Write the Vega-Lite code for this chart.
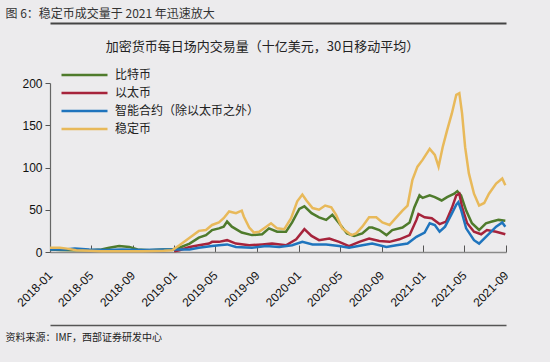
{
  "$schema": "https://vega.github.io/schema/vega-lite/v6.json",
  "width": 456,
  "height": 169,
  "autosize": {"type": "none"},
  "padding": {"left": 50, "top": 83, "right": 44, "bottom": 110},
  "background": "#ecebed",
  "config": {"view": {"stroke": null}, "font": "Noto Sans CJK SC"},
  "datasets": {
    "vol": [
      {"series": "比特币", "date": "2018-01-01", "value": 3},
      {"series": "比特币", "date": "2018-02-01", "value": 2.5},
      {"series": "比特币", "date": "2018-03-15", "value": 2},
      {"series": "比特币", "date": "2018-05-01", "value": 2},
      {"series": "比特币", "date": "2018-06-01", "value": 3},
      {"series": "比特币", "date": "2018-06-24", "value": 5},
      {"series": "比特币", "date": "2018-07-23", "value": 7},
      {"series": "比特币", "date": "2018-08-22", "value": 6},
      {"series": "比特币", "date": "2018-09-15", "value": 3},
      {"series": "比特币", "date": "2018-10-20", "value": 2},
      {"series": "比特币", "date": "2018-12-01", "value": 3},
      {"series": "比特币", "date": "2018-12-26", "value": 3},
      {"series": "比特币", "date": "2019-01-16", "value": 5},
      {"series": "比特币", "date": "2019-02-15", "value": 10},
      {"series": "比特币", "date": "2019-03-14", "value": 17},
      {"series": "比特币", "date": "2019-04-04", "value": 20},
      {"series": "比特币", "date": "2019-04-22", "value": 26},
      {"series": "比特币", "date": "2019-05-12", "value": 28},
      {"series": "比特币", "date": "2019-05-26", "value": 30},
      {"series": "比特币", "date": "2019-06-05", "value": 36},
      {"series": "比特币", "date": "2019-06-19", "value": 30},
      {"series": "比特币", "date": "2019-07-18", "value": 23},
      {"series": "比特币", "date": "2019-08-17", "value": 20},
      {"series": "比特币", "date": "2019-09-16", "value": 21},
      {"series": "比特币", "date": "2019-10-06", "value": 28},
      {"series": "比特币", "date": "2019-10-30", "value": 24},
      {"series": "比特币", "date": "2019-11-25", "value": 24},
      {"series": "比特币", "date": "2019-12-13", "value": 35},
      {"series": "比特币", "date": "2020-01-03", "value": 51},
      {"series": "比特币", "date": "2020-01-18", "value": 54},
      {"series": "比特币", "date": "2020-02-08", "value": 46},
      {"series": "比特币", "date": "2020-03-01", "value": 41},
      {"series": "比特币", "date": "2020-03-22", "value": 38},
      {"series": "比特币", "date": "2020-04-09", "value": 44},
      {"series": "比特币", "date": "2020-04-29", "value": 34},
      {"series": "比特币", "date": "2020-05-22", "value": 22},
      {"series": "比特币", "date": "2020-06-12", "value": 19},
      {"series": "比特币", "date": "2020-07-06", "value": 22},
      {"series": "比特币", "date": "2020-07-26", "value": 29},
      {"series": "比特币", "date": "2020-08-04", "value": 29},
      {"series": "比特币", "date": "2020-08-25", "value": 26},
      {"series": "比特币", "date": "2020-09-15", "value": 20},
      {"series": "比特币", "date": "2020-10-02", "value": 26},
      {"series": "比特币", "date": "2020-11-01", "value": 29},
      {"series": "比特币", "date": "2020-11-22", "value": 35},
      {"series": "比特币", "date": "2020-12-06", "value": 53},
      {"series": "比特币", "date": "2020-12-21", "value": 67},
      {"series": "比特币", "date": "2020-12-30", "value": 64},
      {"series": "比特币", "date": "2021-01-20", "value": 67},
      {"series": "比特币", "date": "2021-02-04", "value": 65},
      {"series": "比特币", "date": "2021-02-24", "value": 61},
      {"series": "比特币", "date": "2021-03-12", "value": 65},
      {"series": "比特币", "date": "2021-04-02", "value": 69},
      {"series": "比特币", "date": "2021-04-11", "value": 72},
      {"series": "比特币", "date": "2021-04-22", "value": 67},
      {"series": "比特币", "date": "2021-05-07", "value": 49},
      {"series": "比特币", "date": "2021-05-24", "value": 34},
      {"series": "比特币", "date": "2021-06-14", "value": 26},
      {"series": "比特币", "date": "2021-07-04", "value": 34},
      {"series": "比特币", "date": "2021-07-22", "value": 36},
      {"series": "比特币", "date": "2021-08-10", "value": 38},
      {"series": "比特币", "date": "2021-08-30", "value": 37},

      {"series": "以太币", "date": "2019-01-01", "value": 1},
      {"series": "以太币", "date": "2019-01-16", "value": 2},
      {"series": "以太币", "date": "2019-02-15", "value": 6},
      {"series": "以太币", "date": "2019-03-14", "value": 8},
      {"series": "以太币", "date": "2019-04-13", "value": 10},
      {"series": "以太币", "date": "2019-04-22", "value": 12},
      {"series": "以太币", "date": "2019-05-12", "value": 12},
      {"series": "以太币", "date": "2019-06-05", "value": 14},
      {"series": "以太币", "date": "2019-07-01", "value": 10},
      {"series": "以太币", "date": "2019-08-09", "value": 8},
      {"series": "以太币", "date": "2019-09-16", "value": 9},
      {"series": "以太币", "date": "2019-10-15", "value": 10},
      {"series": "以太币", "date": "2019-11-25", "value": 8},
      {"series": "以太币", "date": "2019-12-25", "value": 15},
      {"series": "以太币", "date": "2020-01-18", "value": 27},
      {"series": "以太币", "date": "2020-02-08", "value": 19},
      {"series": "以太币", "date": "2020-03-01", "value": 14},
      {"series": "以太币", "date": "2020-03-31", "value": 16},
      {"series": "以太币", "date": "2020-04-29", "value": 12},
      {"series": "以太币", "date": "2020-05-28", "value": 7},
      {"series": "以太币", "date": "2020-06-27", "value": 12},
      {"series": "以太币", "date": "2020-07-26", "value": 16},
      {"series": "以太币", "date": "2020-08-25", "value": 13},
      {"series": "以太币", "date": "2020-09-24", "value": 12},
      {"series": "以太币", "date": "2020-10-23", "value": 15},
      {"series": "以太币", "date": "2020-11-22", "value": 20},
      {"series": "以太币", "date": "2020-12-12", "value": 38},
      {"series": "以太币", "date": "2020-12-18", "value": 45},
      {"series": "以太币", "date": "2021-01-05", "value": 41},
      {"series": "以太币", "date": "2021-01-26", "value": 40},
      {"series": "以太币", "date": "2021-02-18", "value": 33},
      {"series": "以太币", "date": "2021-03-09", "value": 36},
      {"series": "以太币", "date": "2021-03-26", "value": 52},
      {"series": "以太币", "date": "2021-04-08", "value": 67},
      {"series": "以太币", "date": "2021-04-17", "value": 69},
      {"series": "以太币", "date": "2021-04-25", "value": 53},
      {"series": "以太币", "date": "2021-05-10", "value": 34},
      {"series": "以太币", "date": "2021-05-30", "value": 24},
      {"series": "以太币", "date": "2021-06-20", "value": 21},
      {"series": "以太币", "date": "2021-07-07", "value": 26},
      {"series": "以太币", "date": "2021-08-03", "value": 24},
      {"series": "以太币", "date": "2021-08-30", "value": 21},

      {"series": "智能合约（除以太币之外）", "date": "2018-01-01", "value": 3},
      {"series": "智能合约（除以太币之外）", "date": "2018-02-15", "value": 3},
      {"series": "智能合约（除以太币之外）", "date": "2018-03-15", "value": 4},
      {"series": "智能合约（除以太币之外）", "date": "2018-04-26", "value": 3},
      {"series": "智能合约（除以太币之外）", "date": "2018-06-15", "value": 2.5},
      {"series": "智能合约（除以太币之外）", "date": "2018-08-01", "value": 3},
      {"series": "智能合约（除以太币之外）", "date": "2018-10-01", "value": 2.5},
      {"series": "智能合约（除以太币之外）", "date": "2018-12-01", "value": 3},
      {"series": "智能合约（除以太币之外）", "date": "2019-01-16", "value": 3},
      {"series": "智能合约（除以太币之外）", "date": "2019-02-15", "value": 3},
      {"series": "智能合约（除以太币之外）", "date": "2019-03-14", "value": 5},
      {"series": "智能合约（除以太币之外）", "date": "2019-04-22", "value": 7},
      {"series": "智能合约（除以太币之外）", "date": "2019-05-12", "value": 8},
      {"series": "智能合约（除以太币之外）", "date": "2019-06-05", "value": 9},
      {"series": "智能合约（除以太币之外）", "date": "2019-07-01", "value": 6},
      {"series": "智能合约（除以太币之外）", "date": "2019-08-17", "value": 5},
      {"series": "智能合约（除以太币之外）", "date": "2019-09-28", "value": 7},
      {"series": "智能合约（除以太币之外）", "date": "2019-11-05", "value": 6},
      {"series": "智能合约（除以太币之外）", "date": "2019-12-13", "value": 8},
      {"series": "智能合约（除以太币之外）", "date": "2020-01-12", "value": 12},
      {"series": "智能合约（除以太币之外）", "date": "2020-02-11", "value": 9},
      {"series": "智能合约（除以太币之外）", "date": "2020-03-22", "value": 9},
      {"series": "智能合约（除以太币之外）", "date": "2020-04-29", "value": 7},
      {"series": "智能合约（除以太币之外）", "date": "2020-05-28", "value": 5},
      {"series": "智能合约（除以太币之外）", "date": "2020-07-06", "value": 8},
      {"series": "智能合约（除以太币之外）", "date": "2020-08-04", "value": 10},
      {"series": "智能合约（除以太币之外）", "date": "2020-09-15", "value": 6},
      {"series": "智能合约（除以太币之外）", "date": "2020-10-14", "value": 8},
      {"series": "智能合约（除以太币之外）", "date": "2020-11-16", "value": 10},
      {"series": "智能合约（除以太币之外）", "date": "2020-12-12", "value": 18},
      {"series": "智能合约（除以太币之外）", "date": "2021-01-05", "value": 23},
      {"series": "智能合约（除以太币之外）", "date": "2021-01-20", "value": 34},
      {"series": "智能合约（除以太币之外）", "date": "2021-02-04", "value": 32},
      {"series": "智能合约（除以太币之外）", "date": "2021-02-18", "value": 24},
      {"series": "智能合约（除以太币之外）", "date": "2021-03-06", "value": 30},
      {"series": "智能合约（除以太币之外）", "date": "2021-03-24", "value": 44},
      {"series": "智能合约（除以太币之外）", "date": "2021-04-08", "value": 56},
      {"series": "智能合约（除以太币之外）", "date": "2021-04-14", "value": 59},
      {"series": "智能合约（除以太币之外）", "date": "2021-04-22", "value": 50},
      {"series": "智能合约（除以太币之外）", "date": "2021-05-07", "value": 28},
      {"series": "智能合约（除以太币之外）", "date": "2021-05-30", "value": 14},
      {"series": "智能合约（除以太币之外）", "date": "2021-06-14", "value": 10},
      {"series": "智能合约（除以太币之外）", "date": "2021-07-04", "value": 18},
      {"series": "智能合约（除以太币之外）", "date": "2021-08-03", "value": 30},
      {"series": "智能合约（除以太币之外）", "date": "2021-08-21", "value": 35},
      {"series": "智能合约（除以太币之外）", "date": "2021-08-30", "value": 30},

      {"series": "稳定币", "date": "2018-01-01", "value": 5},
      {"series": "稳定币", "date": "2018-01-30", "value": 5},
      {"series": "稳定币", "date": "2018-02-20", "value": 4},
      {"series": "稳定币", "date": "2018-03-19", "value": 2},
      {"series": "稳定币", "date": "2018-04-26", "value": 1.5},
      {"series": "稳定币", "date": "2018-06-01", "value": 1},
      {"series": "稳定币", "date": "2018-08-01", "value": 1},
      {"series": "稳定币", "date": "2018-10-01", "value": 1},
      {"series": "稳定币", "date": "2018-12-01", "value": 1.5},
      {"series": "稳定币", "date": "2018-12-26", "value": 2},
      {"series": "稳定币", "date": "2019-01-16", "value": 8},
      {"series": "稳定币", "date": "2019-02-15", "value": 17},
      {"series": "稳定币", "date": "2019-03-14", "value": 25},
      {"series": "稳定币", "date": "2019-04-04", "value": 26},
      {"series": "稳定币", "date": "2019-04-22", "value": 32},
      {"series": "稳定币", "date": "2019-05-12", "value": 35},
      {"series": "稳定币", "date": "2019-05-26", "value": 40},
      {"series": "稳定币", "date": "2019-06-11", "value": 48},
      {"series": "稳定币", "date": "2019-07-01", "value": 46},
      {"series": "稳定币", "date": "2019-07-18", "value": 49},
      {"series": "稳定币", "date": "2019-07-24", "value": 42},
      {"series": "稳定币", "date": "2019-08-09", "value": 29},
      {"series": "稳定币", "date": "2019-08-23", "value": 23},
      {"series": "稳定币", "date": "2019-09-07", "value": 24},
      {"series": "稳定币", "date": "2019-09-28", "value": 30},
      {"series": "稳定币", "date": "2019-10-12", "value": 34},
      {"series": "稳定币", "date": "2019-10-30", "value": 28},
      {"series": "稳定币", "date": "2019-11-20", "value": 27},
      {"series": "稳定币", "date": "2019-12-10", "value": 40},
      {"series": "稳定币", "date": "2019-12-28", "value": 60},
      {"series": "稳定币", "date": "2020-01-12", "value": 68},
      {"series": "稳定币", "date": "2020-01-24", "value": 61},
      {"series": "稳定币", "date": "2020-02-11", "value": 52},
      {"series": "稳定币", "date": "2020-03-01", "value": 50},
      {"series": "稳定币", "date": "2020-03-19", "value": 55},
      {"series": "稳定币", "date": "2020-04-06", "value": 53},
      {"series": "稳定币", "date": "2020-04-20", "value": 44},
      {"series": "稳定币", "date": "2020-05-08", "value": 28},
      {"series": "稳定币", "date": "2020-06-04", "value": 20},
      {"series": "稳定币", "date": "2020-06-18", "value": 22},
      {"series": "稳定币", "date": "2020-07-06", "value": 30},
      {"series": "稳定币", "date": "2020-07-26", "value": 41},
      {"series": "稳定币", "date": "2020-08-16", "value": 41},
      {"series": "稳定币", "date": "2020-09-03", "value": 35},
      {"series": "稳定币", "date": "2020-09-24", "value": 32},
      {"series": "稳定币", "date": "2020-10-14", "value": 41},
      {"series": "稳定币", "date": "2020-11-01", "value": 49},
      {"series": "稳定币", "date": "2020-11-16", "value": 55},
      {"series": "稳定币", "date": "2020-11-30", "value": 85},
      {"series": "稳定币", "date": "2020-12-15", "value": 101},
      {"series": "稳定币", "date": "2020-12-30", "value": 109},
      {"series": "稳定币", "date": "2021-01-20", "value": 122},
      {"series": "稳定币", "date": "2021-02-04", "value": 115},
      {"series": "稳定币", "date": "2021-02-15", "value": 101},
      {"series": "稳定币", "date": "2021-02-27", "value": 124},
      {"series": "稳定币", "date": "2021-03-12", "value": 144},
      {"series": "稳定币", "date": "2021-03-26", "value": 164},
      {"series": "稳定币", "date": "2021-04-08", "value": 186},
      {"series": "稳定币", "date": "2021-04-17", "value": 188},
      {"series": "稳定币", "date": "2021-04-25", "value": 164},
      {"series": "稳定币", "date": "2021-05-04", "value": 124},
      {"series": "稳定币", "date": "2021-05-15", "value": 93},
      {"series": "稳定币", "date": "2021-05-30", "value": 69},
      {"series": "稳定币", "date": "2021-06-14", "value": 55},
      {"series": "稳定币", "date": "2021-06-29", "value": 58},
      {"series": "稳定币", "date": "2021-07-13", "value": 69},
      {"series": "稳定币", "date": "2021-08-03", "value": 81},
      {"series": "稳定币", "date": "2021-08-21", "value": 87},
      {"series": "稳定币", "date": "2021-08-30", "value": 79}
    ]
  },
  "resolve": {"axis": {"x": "independent"}},
  "layer": [
    {
      "data": {"name": "vol"},
      "mark": {"type": "line", "strokeWidth": 2.5},
      "encoding": {
        "x": {
          "field": "date",
          "type": "temporal",
          "scale": {"domain": [{"year": 2018, "month": 1, "date": 1}, {"year": 2021, "month": 9, "date": 1}]},
          "axis": {
            "orient": "bottom",
            "values": [
              {"year": 2018, "month": 1, "date": 1}, {"year": 2018, "month": 5, "date": 1}, {"year": 2018, "month": 9, "date": 1},
              {"year": 2019, "month": 1, "date": 1}, {"year": 2019, "month": 5, "date": 1}, {"year": 2019, "month": 9, "date": 1},
              {"year": 2020, "month": 1, "date": 1}, {"year": 2020, "month": 5, "date": 1}, {"year": 2020, "month": 9, "date": 1},
              {"year": 2021, "month": 1, "date": 1}, {"year": 2021, "month": 5, "date": 1}, {"year": 2021, "month": 9, "date": 1}
            ],
            "format": "%Y-%m",
            "labelAngle": -45,
            "labelAlign": "right",
            "labelBaseline": "middle",
            "labelFont": "Liberation Sans",
            "labelFontSize": 12,
            "labelColor": "#111111",
            "labelPadding": 28,
            "labelOverlap": false,
            "labelFlush": false,
            "tickSize": -7,
            "tickColor": "#555555",
            "tickWidth": 1,
            "domainColor": "#8a8a8a",
            "domainWidth": 1.5,
            "grid": false,
            "title": "资料来源：IMF，西部证券研发中心",
            "titleFont": "Noto Sans CJK SC",
            "titleFontSize": 10,
            "titleFontWeight": "normal",
            "titleColor": "#222222",
            "titleX": -45,
            "titleY": 85,
            "titleAlign": "left",
            "titleBaseline": "middle"
          }
        },
        "y": {
          "field": "value",
          "type": "quantitative",
          "scale": {"domain": [0, 200], "nice": false},
          "axis": {
            "orient": "left",
            "values": [0, 25, 50, 75, 100, 125, 150, 175, 200],
            "labelFont": "Liberation Sans",
            "labelFontSize": 12,
            "labelColor": "#111111",
            "labelPadding": 3,
            "tickSize": 5,
            "tickColor": "#555555",
            "domainColor": "#666666",
            "domainWidth": 1.2,
            "grid": false,
            "title": "图 6：稳定币成交量于 2021 年迅速放大",
            "titleAngle": 0,
            "titleX": -45,
            "titleY": -70,
            "titleAlign": "left",
            "titleBaseline": "middle",
            "titleFont": "Noto Sans CJK SC",
            "titleFontSize": 12,
            "titleFontWeight": "normal",
            "titleColor": "#333333"
          }
        },
        "color": {
          "field": "series",
          "type": "nominal",
          "scale": {
            "domain": ["比特币", "以太币", "智能合约（除以太币之外）", "稳定币"],
            "range": ["#4f7b2c", "#a6233b", "#1f74bd", "#e8b95a"]
          },
          "legend": {
            "orient": "none",
            "legendX": 10,
            "legendY": -15,
            "title": null,
            "symbolType": "stroke",
            "symbolSize": 2116,
            "symbolStrokeWidth": 2.5,
            "clipHeight": 14,
            "rowPadding": 4,
            "labelFont": "Noto Sans CJK SC",
            "labelFontSize": 12,
            "labelOffset": 6,
            "labelColor": "#222222",
            "padding": 0
          }
        }
      }
    },
    {
      "data": {"name": "vol"},
      "mark": {"type": "line", "opacity": 0},
      "encoding": {
        "x": {
          "field": "date",
          "type": "temporal",
          "axis": {
            "orient": "top",
            "offset": 60,
            "title": "加密货币每日场内交易量（十亿美元，30日移动平均）",
            "labels": false,
            "ticks": false,
            "domain": true,
            "domainColor": "#444444",
            "domainWidth": 2,
            "domainOpacity": 1,
            "grid": false,
            "titleX": 212,
            "titleY": 23,
            "titleAlign": "center",
            "titleBaseline": "middle",
            "titleFont": "Noto Sans CJK SC",
            "titleFontSize": 13,
            "titleFontWeight": "normal",
            "titleColor": "#222222"
          }
        },
        "y": {"field": "value", "type": "quantitative"}
      }
    },
    {
      "data": {"name": "vol"},
      "mark": {"type": "line", "opacity": 0},
      "encoding": {
        "x": {
          "field": "date",
          "type": "temporal",
          "axis": {
            "orient": "bottom",
            "offset": 73,
            "title": null,
            "labels": false,
            "ticks": false,
            "domain": true,
            "domainColor": "#555555",
            "domainWidth": 1.5,
            "domainOpacity": 1,
            "grid": false
          }
        },
        "y": {"field": "value", "type": "quantitative"}
      }
    }
  ]
}
